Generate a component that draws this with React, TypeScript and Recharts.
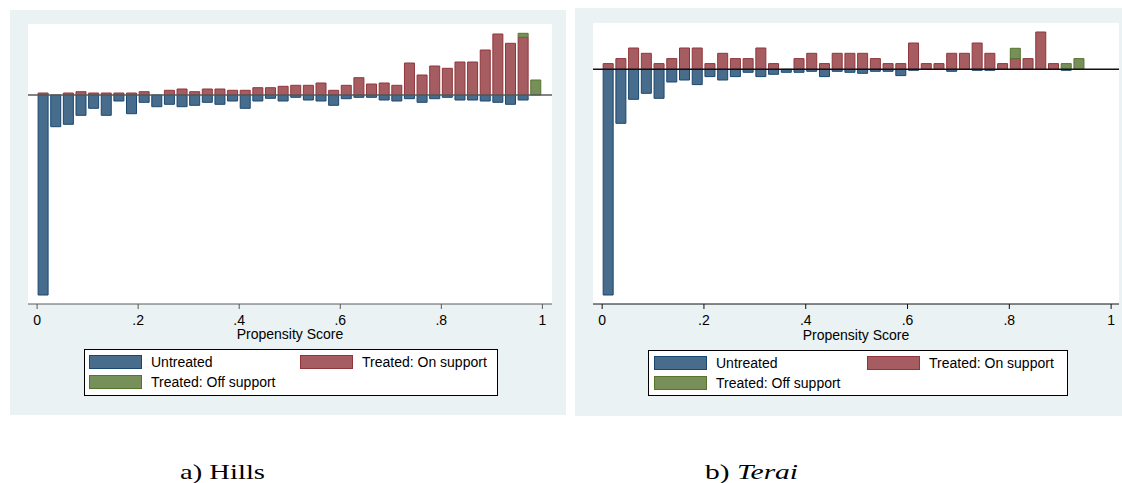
import { Bar, BarChart, CartesianGrid, Legend, ReferenceLine, XAxis, YAxis } from "recharts";

// propensity score bins (midpoints), shared by both panels
const binMids = [
  0.0125, 0.0375, 0.0625, 0.0875, 0.1125, 0.1375, 0.1625, 0.1875, 0.2125, 0.2375,
  0.2625, 0.2875, 0.3125, 0.3375, 0.3625, 0.3875, 0.4125, 0.4375, 0.4625, 0.4875,
  0.5125, 0.5375, 0.5625, 0.5875, 0.6125, 0.6375, 0.6625, 0.6875, 0.7125, 0.7375,
  0.7625, 0.7875, 0.8125, 0.8375, 0.8625, 0.8875, 0.9125, 0.9375, 0.9625, 0.9875,
];
const xTicks = [0, 0.2, 0.4, 0.6, 0.8, 1];

// a) Hills
const hillsUntreated = [
  -200, -31.7, -29.3, -20.3, -13.3, -20.3, -6, -18.7, -7.3, -11.7,
  -9.3, -11.7, -10.3, -7.3, -9.3, -6, -13.3, -6, -3.3, -6,
  -2.3, -5, -6, -10.3, -3.7, -2.3, -2.3, -5, -6, -3.7,
  -7.3, -3.7, -2.3, -5, -5, -6, -7.3, -9.3, -5, 0,
];
const hillsOnSupport = [
  2, 0, 2, 3.3, 2, 2, 2, 2, 3.3, 0,
  4.7, 6, 3.3, 6, 6, 4.7, 4.7, 7.3, 7.3, 8.7,
  9.7, 9.7, 12, 4.7, 9.7, 17.3, 11, 12, 9.7, 32,
  20, 29, 26.7, 33, 33, 45, 61, 51.7, 57.7, 0,
];
const hillsOffSupport = [
  0, 0, 0, 0, 0, 0, 0, 0, 0, 0,
  0, 0, 0, 0, 0, 0, 0, 0, 0, 0,
  0, 0, 0, 0, 0, 0, 0, 0, 0, 0,
  0, 0, 0, 0, 0, 0, 0, 0, 4, 15,
];

// b) Terai
const teraiUntreated = [
  -225.7, -54, -30, -24, -29, -12.7, -10.7, -15.3, -7.3, -10.7,
  -7.3, -3, -7.3, -5, -3, -3, -2, -7.3, -2, -3,
  -4, -2, -2, -6.3, -1, 0, 0, -2, 0, -1,
  -1, 0, 0, 0, 0, 0, -1, 0, 0, 0,
];
const teraiOnSupport = [
  5.7, 10.7, 21.3, 16, 5.7, 10.7, 21.3, 21.3, 5.7, 16,
  10.7, 10.7, 21.3, 5.7, 0, 10.7, 16, 5.7, 16, 16,
  16, 10.7, 5.7, 5.7, 26.3, 5.7, 5.7, 16, 16, 26.3,
  16, 5.7, 10.7, 10.7, 37.3, 5.7, 0, 0, 0, 0,
];
const teraiOffSupport = [
  0, 0, 0, 0, 0, 0, 0, 0, 0, 0,
  0, 0, 0, 0, 0, 0, 0, 0, 0, 0,
  0, 0, 0, 0, 0, 0, 0, 0, 0, 0,
  0, 0, 10.3, 0, 0, 0, 5.7, 10.7, 0, 0,
];

const BG = "#eaf2f3";
const NAVY = { fill: "#486c8c", stroke: "#1a476f" };
const MAROON = { fill: "#a65d62", stroke: "#90353b" };
const GREEN = { fill: "#779059", stroke: "#55752f" };
const SANS = "'Liberation Sans', Arial, sans-serif";
const SERIF = "'Liberation Serif', 'Times New Roman', serif";

const fmtTick = (v: number) => (v === 0 ? "0" : v === 1 ? "1" : String(v).replace(/^0/, ""));

function buildRows(untreated: number[], on: number[], off: number[]) {
  return binMids.map((x, i) => ({ x, untreated: untreated[i], on: on[i], off: off[i] }));
}

type LegendLayout = { w: number; h: number; pad: number; col2: number; row2: number };

function PsLegend({ lay }: { lay: LegendLayout }) {
  const items = [
    { label: "Untreated", c: NAVY, x: lay.pad, y: 6 },
    { label: "Treated: On support", c: MAROON, x: lay.col2, y: 6 },
    { label: "Treated: Off support", c: GREEN, x: lay.pad, y: lay.row2 },
  ];
  return (
    <div
      style={{
        position: "relative",
        width: lay.w,
        height: lay.h,
        border: "1px solid #000",
        boxSizing: "border-box",
        background: "#fff",
        fontFamily: SANS,
        fontSize: 14,
        color: "#000",
      }}
    >
      {items.map((it) => (
        <div
          key={it.label}
          style={{ position: "absolute", left: it.x - 1, top: it.y - 1, display: "flex", alignItems: "center", height: 14 }}
        >
          <span
            style={{
              width: 53,
              height: 14,
              boxSizing: "border-box",
              background: it.c.fill,
              border: `1px solid ${it.c.stroke}`,
              display: "inline-block",
            }}
          />
          <span style={{ marginLeft: 9, lineHeight: "14px", whiteSpace: "nowrap" }}>{it.label}</span>
        </div>
      ))}
    </div>
  );
}

type PanelProps = {
  rows: ReturnType<typeof buildRows>;
  left: number;
  top: number;
  width: number;
  height: number;
  margin: { top: number; right: number; left: number; bottom: number };
  xDomain: [number, number];
  yDomain: [number, number];
  axisColor: string;
  axisHeight: number;
  labelOffset: number;
  legendPos: { left: number; top: number };
  legendLay: LegendLayout;
};

function Panel(p: PanelProps) {
  return (
    <div style={{ position: "absolute", left: p.left, top: p.top, width: p.width, height: p.height, background: BG }}>
      <BarChart
        width={p.width}
        height={p.height}
        data={p.rows}
        margin={p.margin}
        stackOffset="sign"
        barSize={10}
      >
        <CartesianGrid fill="#fff" horizontal={false} vertical={false} />
        <XAxis
          type="number"
          dataKey="x"
          domain={p.xDomain}
          allowDataOverflow
          ticks={xTicks}
          tickFormatter={fmtTick}
          height={p.axisHeight}
          tickSize={5}
          tickMargin={6}
          stroke={p.axisColor}
          tick={{ fill: "#000", fontSize: 14, fontFamily: SANS }}
          label={{
            value: "Propensity Score",
            position: "insideBottom",
            offset: p.labelOffset,
            fill: "#000",
            fontSize: 14,
            fontFamily: SANS,
          }}
        />
        <YAxis
          type="number"
          domain={p.yDomain}
          allowDataOverflow
          width={0}
          tick={false}
          tickLine={false}
          axisLine={{ stroke: p.axisColor }}
        />
        <Bar dataKey="untreated" stackId="s" fill={NAVY.fill} stroke={NAVY.stroke} isAnimationActive={false} />
        <Bar dataKey="on" stackId="s" fill={MAROON.fill} stroke={MAROON.stroke} isAnimationActive={false} />
        <Bar dataKey="off" stackId="s" fill={GREEN.fill} stroke={GREEN.stroke} isAnimationActive={false} />
        <ReferenceLine y={0} stroke={p.axisColor} strokeWidth={1.5} />
        <Legend
          layout="horizontal"
          verticalAlign="middle"
          align="center"
          wrapperStyle={{ left: p.legendPos.left, top: p.legendPos.top, width: p.legendLay.w, height: p.legendLay.h }}
          content={() => <PsLegend lay={p.legendLay} />}
        />
      </BarChart>
    </div>
  );
}

export default function App() {
  const hills = buildRows(hillsUntreated, hillsOnSupport, hillsOffSupport);
  const terai = buildRows(teraiUntreated, teraiOnSupport, teraiOffSupport);
  return (
    <div style={{ position: "absolute", left: 0, top: 0, width: 1122, height: 483, background: "#fff", overflow: "hidden" }}>
      <Panel
        rows={hills}
        left={10}
        top={10}
        width={556}
        height={405}
        margin={{ top: 14, right: 14, left: 18, bottom: 66 }}
        xDomain={[-0.018, 1.019]}
        yDomain={[-209, 71]}
        axisColor="#5a5a5a"
        axisHeight={45}
        labelOffset={10}
        legendPos={{ left: 74, top: 339 }}
        legendLay={{ w: 414, h: 47, pad: 5, col2: 216, row2: 25.5 }}
      />
      <Panel
        rows={terai}
        left={575}
        top={8}
        width={547}
        height={408}
        margin={{ top: 15, right: 3, left: 18, bottom: 66 }}
        xDomain={[-0.018, 1.0155]}
        yDomain={[-234.7, 46.3]}
        axisColor="#111"
        axisHeight={46}
        labelOffset={10.5}
        legendPos={{ left: 73, top: 342 }}
        legendLay={{ w: 420, h: 46, pad: 6, col2: 219, row2: 25.5 }}
      />
      <svg width={1122} height={483} style={{ position: "absolute", left: 0, top: 0, pointerEvents: "none" }}>
        <text x={180} y={479} fontFamily={SERIF} fontSize={22} fill="#000" textLength={85} lengthAdjust="spacingAndGlyphs">
          a) Hills
        </text>
        <text x={705} y={479} fontFamily={SERIF} fontSize={22} fill="#000" textLength={93} lengthAdjust="spacingAndGlyphs">
          b) <tspan fontStyle="italic">Terai</tspan>
        </text>
      </svg>
    </div>
  );
}
